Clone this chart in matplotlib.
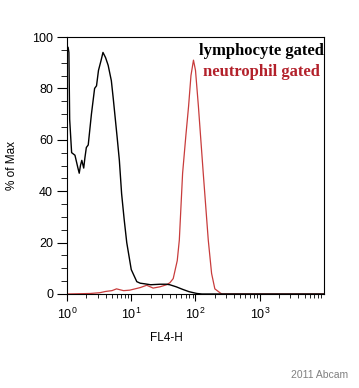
import matplotlib
matplotlib.use("Agg")
import matplotlib.pyplot as plt
from matplotlib.ticker import LogLocator, MultipleLocator, NullFormatter

plt.rcParams['font.family'] = ['Liberation Sans', 'DejaVu Sans']
plt.rcParams['mathtext.fontset'] = 'custom'
plt.rcParams['mathtext.rm'] = 'Liberation Sans'

# lymphocyte gated histogram (FL4-H, % of max)
lymph_x = [1.0, 1.0, 1.04, 1.07, 1.1, 1.18, 1.33, 1.48, 1.55, 1.62, 1.70, 1.82, 1.9,
           2.0, 2.14, 2.4, 2.69, 2.88, 3.09, 3.4, 3.63, 3.98, 4.37, 4.9, 5.25, 6.03,
           6.53, 7.08, 7.76, 8.51, 10.0, 12.2, 13.8, 15.8, 20.0, 28.2, 35.5, 39.8,
           50.1, 63.1, 79.4, 105, 126, 10000]
lymph_y = [0, 96, 96, 94, 68, 55, 54, 49, 47, 50, 52, 49, 53,
           57, 58, 70, 80, 81, 87, 91, 94, 92, 89, 83, 76, 61,
           52, 39, 29, 20, 9.5, 4.8, 4.2, 4.0, 3.6, 3.8, 3.8, 3.6,
           2.8, 1.8, 0.9, 0.2, 0, 0]

# neutrophil gated histogram
neut_x = [1.0, 2.3, 3.24, 4.0, 5.0, 5.9, 6.8, 7.6, 9.5, 13.8, 17.4, 21.9, 28.0, 35.5,
          40.0, 45.0, 52.0, 56.0, 63.0, 71.0, 78.0, 85.0, 93.0, 100, 111, 132, 158,
          178, 200, 240, 257, 10000]
neut_y = [0, 0.2, 0.5, 1.0, 1.3, 2.0, 1.6, 1.3, 1.5, 2.5, 3.4, 2.3, 2.8, 3.6,
          4.4, 6.0, 13, 21, 47, 62, 73, 85, 91, 87, 73, 47, 21,
          8, 2, 0.5, 0, 0]

x_ticks = [1, 10, 100, 1000]
y_ticks = [0, 20, 40, 60, 80, 100]

fig = plt.figure(figsize=(3.59, 3.88), dpi=100)
ax = fig.add_axes([67 / 359, 1 - 294 / 388, 257 / 359, 257 / 388])

ax.plot(neut_x, neut_y, color='#c83c3c', lw=0.9)
ax.plot(lymph_x, lymph_y, color='black', lw=1.0)

ax.set_xscale('log')
ax.set_xlim(1, 10000)
ax.set_ylim(0, 100)
ax.set_xticks(x_ticks)
ax.xaxis.set_minor_locator(LogLocator(base=10, subs=range(2, 10), numticks=20))
ax.xaxis.set_minor_formatter(NullFormatter())
ax.set_yticks(y_ticks)
ax.yaxis.set_minor_locator(MultipleLocator(5))

ax.tick_params(axis='both', which='major', labelsize=9, width=0.8, direction='out')
ax.tick_params(axis='y', which='major', length=7, pad=3)
ax.tick_params(axis='y', which='minor', length=4, width=0.6)
ax.tick_params(axis='x', which='major', length=5, pad=4)
ax.tick_params(axis='x', which='minor', length=3, width=0.6)
for sp in ax.spines.values():
    sp.set_linewidth(0.8)

ax.text(1.0, 0.93, 'lymphocyte gated', transform=ax.transAxes, ha='right',
        va='baseline', family='Liberation Serif', weight='bold', fontsize=12,
        color='black')
ax.text(0.985, 0.848, 'neutrophil gated', transform=ax.transAxes, ha='right',
        va='baseline', family='Liberation Serif', weight='bold', fontsize=12,
        color='#b3212b')

fig.text(166 / 359, 1 - 338 / 388, 'FL4-H', ha='center', va='center', fontsize=8.5)
fig.text(12 / 359, 1 - 165 / 388, '% of Max', ha='center', va='center',
         rotation=90, fontsize=8.5)
fig.text(348 / 359, 1 - 378 / 388, '2011 Abcam', ha='right', va='baseline',
         fontsize=7.5, color='#808080')

fig.savefig('out.png', dpi=100)
